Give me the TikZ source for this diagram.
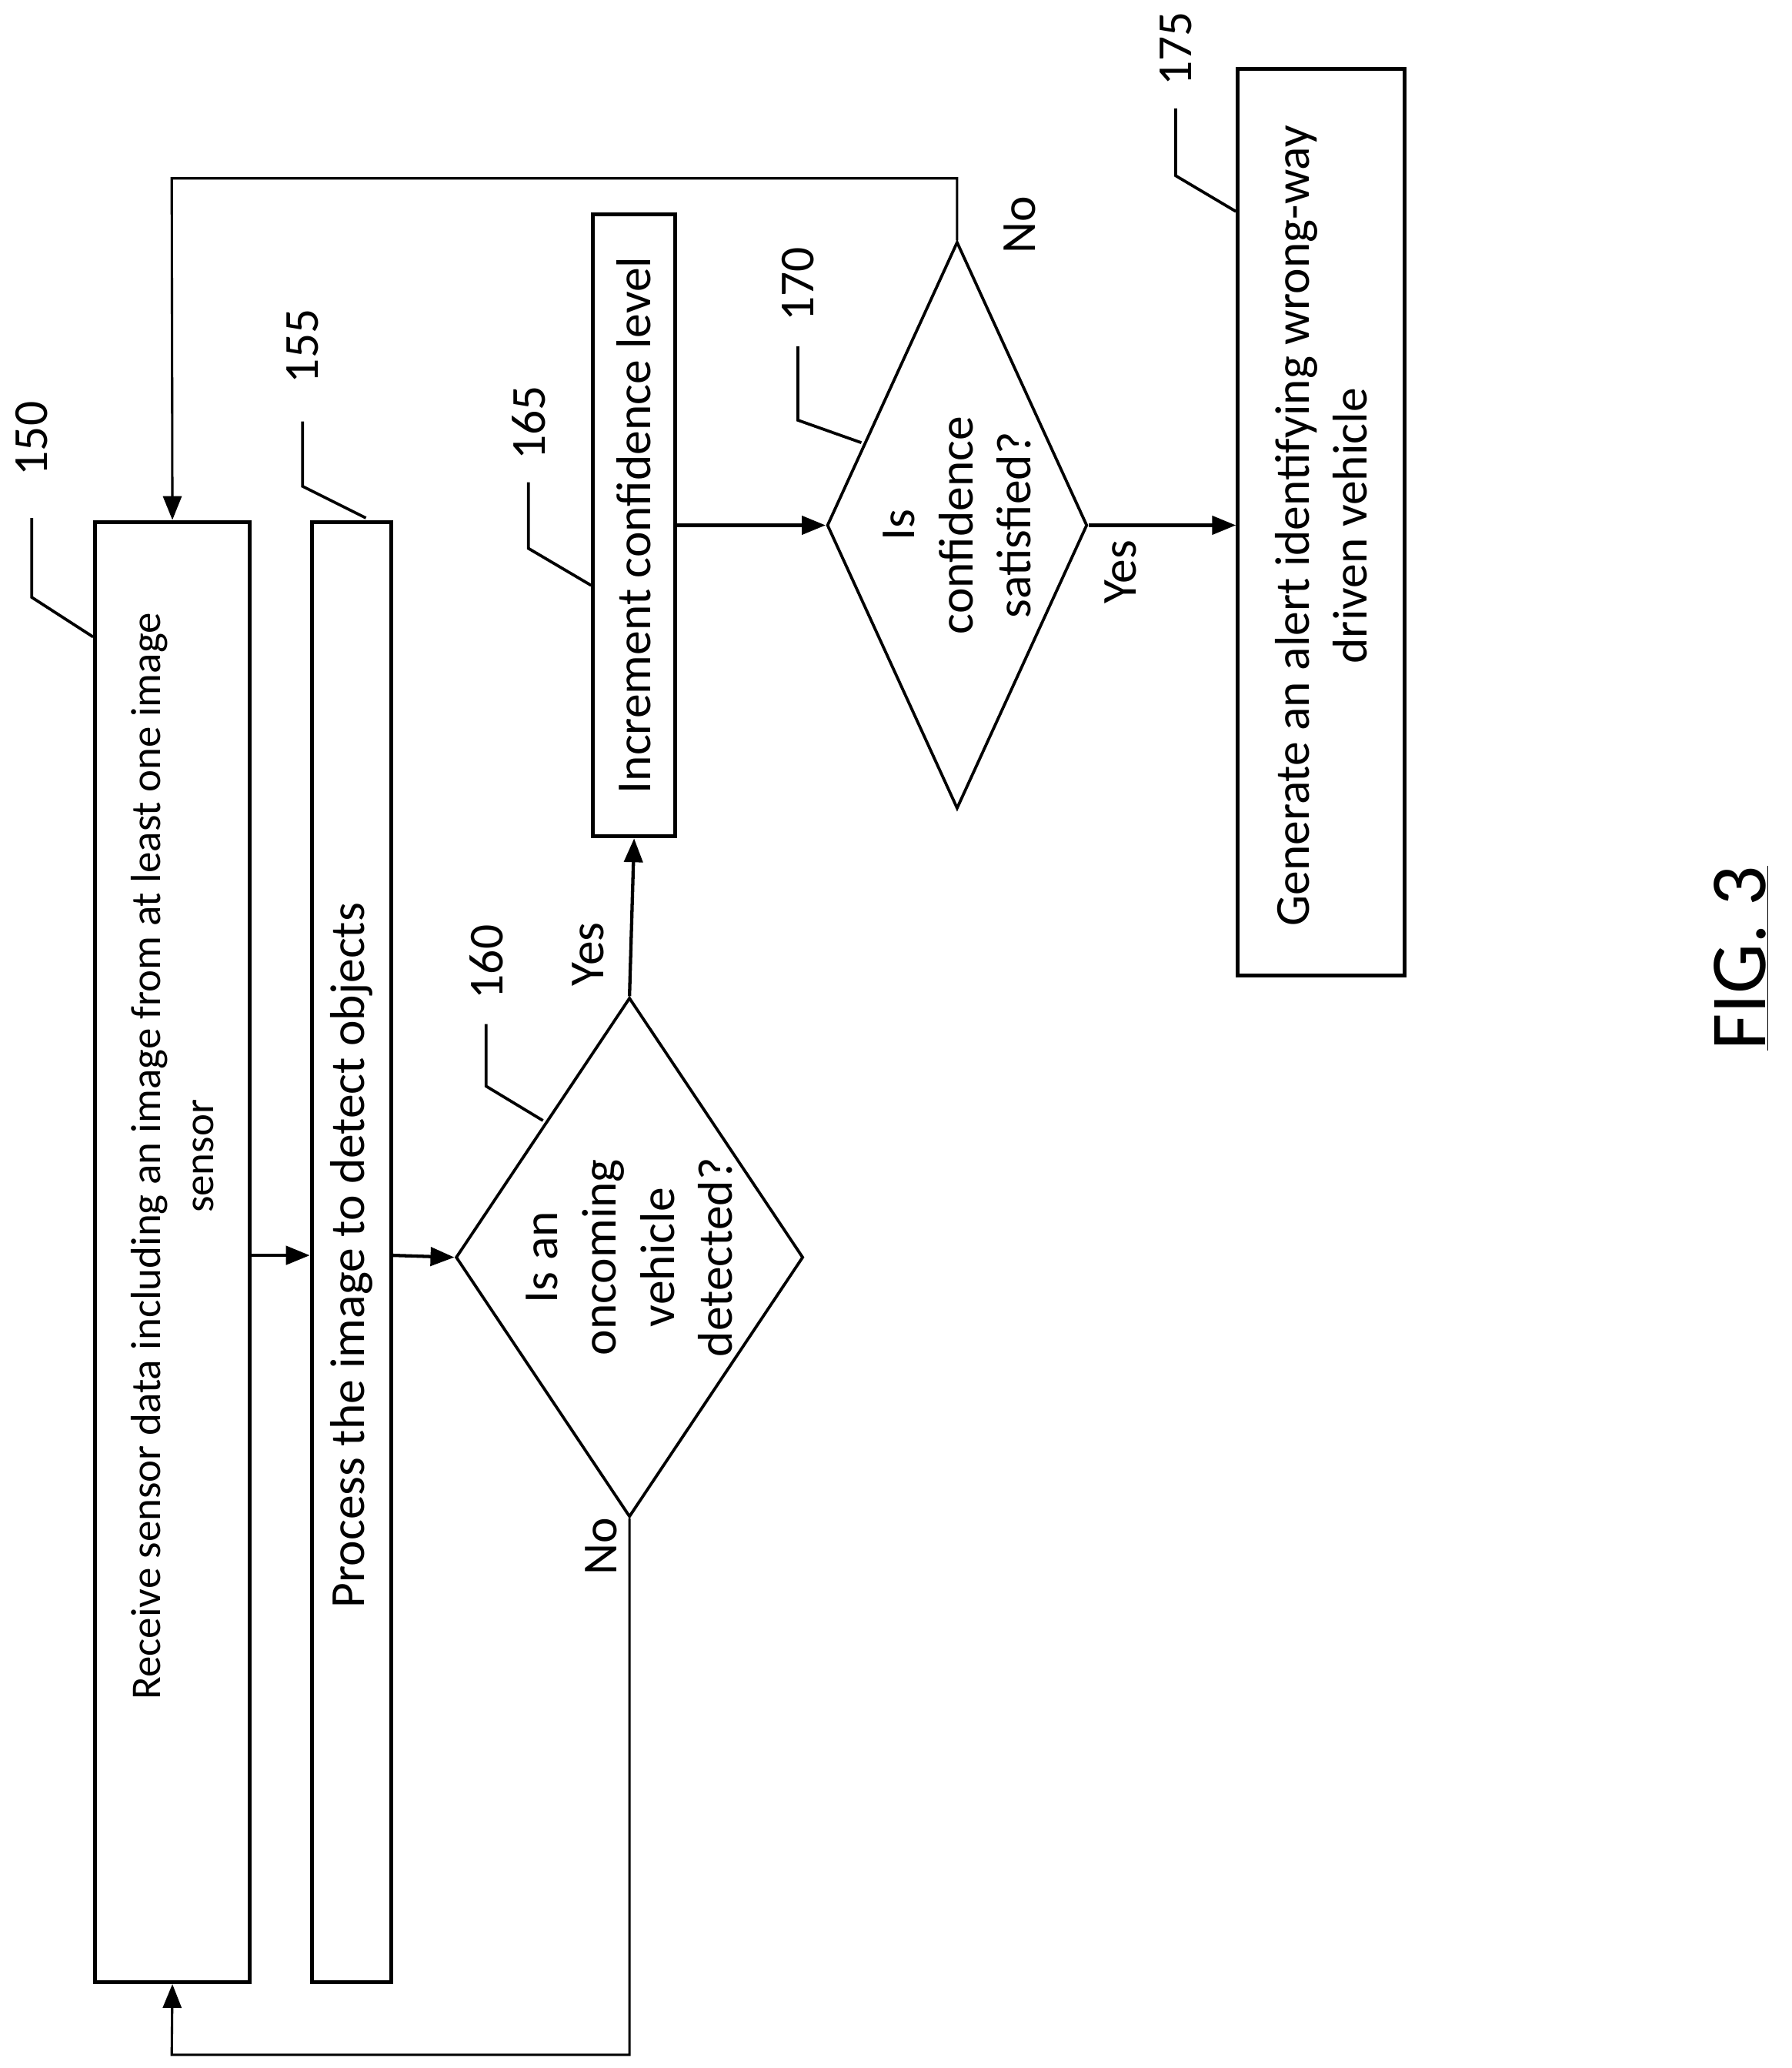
\documentclass[tikz,border=0pt]{standalone}
\usepackage{fontspec}
\setmainfont{Carlito}
\usetikzlibrary{shapes.geometric,arrows.meta}
\begin{document}
\begin{tikzpicture}[x=1pt,y=-1pt,
  box/.style={draw,line width=3pt,inner sep=0pt},
  dia/.style={draw,line width=2.2pt,diamond,inner sep=0pt},
  txt/.style={rotate=90,inner sep=0pt,align=center,font=\fontsize{37}{44}\selectfont},
  arr/.style={line width=2.5pt,-{Triangle[length=18pt,width=14pt]}},
  loop/.style={line width=1.8pt,-{Triangle[length=18pt,width=14pt]}},
  lead/.style={line width=2.2pt},
  lbl/.style={rotate=90,font=\fontsize{37}{44}\selectfont,inner sep=0pt}]
\useasboundingbox (0,0) rectangle (1356,1565);
\node[box,minimum width=117pt,minimum height=1105pt] (b150) at (130.5,947.5) {};
\node[txt,font=\fontsize{32}{40}\selectfont] (t150) at (130.5,875) {Receive sensor data including an image from at least one image\\sensor};
\node[box,minimum width=60pt,minimum height=1105pt] (b155) at (266,947.5) {};
\node[txt] (t155) at (266,950) {Process the image to detect objects};
\node[dia,minimum width=263pt,minimum height=393pt] (d160) at (476.5,951.5) {};
\node[txt] (t160) at (476.5,951.5) {Is an\\oncoming\\vehicle\\detected?};
\node[box,minimum width=62pt,minimum height=471pt] (b165) at (480,397.5) {};
\node[txt] (t165) at (480,397.5) {Increment confidence level};
\node[dia,minimum width=197pt,minimum height=429pt] (d170) at (724.5,397.5) {};
\node[txt] (t170) at (724.5,397.5) {Is\\confidence\\satisfied?};
\node[box,minimum width=126pt,minimum height=686pt] (b175) at (1000,395) {};
\node[txt] (t175) at (1000,398) {Generate an alert identifying wrong-way\\driven vehicle};
\node[rotate=90,font=\fontsize{60}{70}\selectfont,inner sep=0pt] (fig) at (1318,725) {\underline{FIG. 3}};
% arrows
\draw[arr] (b150.east |- 0,950) -- (b155.west |- 0,950);
\draw[arr] (b155.east |- 0,950) -- (d160.west);
\draw[arr] (d160.north) -- (b165.south);
\draw[arr] (b165.east) -- (d170.west);
\draw[arr] (d170.east) -- (b175.west |- d170.east);
\coordinate (t1) at (724.5,135);
\coordinate (t2) at (130,135);
\draw[loop] (d170.north) -- (t1) -- (t2) -- (b150.north);
\coordinate (u1) at (476.5,1555);
\coordinate (u2) at (130,1555);
\draw[loop] (d160.south) -- (u1) -- (u2) -- (b150.south);
% yes/no
\node[lbl] (y1) at (445,722) {Yes};
\node[lbl] (n1) at (455,1170) {No};
\node[lbl] (y2) at (848,433) {Yes};
\node[lbl] (n2) at (772,170) {No};
% reference numerals
\node[lbl] (r150) at (24,332) {150};
\draw[lead] (24,392) -- (24,452) -- (b150.west |- 0,482);
\node[lbl] (r155) at (229,262) {155};
\draw[lead] (229,319) -- (229,368) -- (277,392);
\node[lbl] (r160) at (368,728) {160};
\draw[lead] (368,775) -- (368,822) -- (411,848);
\node[lbl] (r165) at (400,320) {165};
\draw[lead] (400,365) -- (400,415) -- (b165.west |- 0,443);
\node[lbl] (r170) at (604,215) {170};
\draw[lead] (604,262) -- (604,318) -- (652,335);
\node[lbl] (r175) at (890,37) {175};
\draw[lead] (890,82) -- (890,133) -- (b175.west |- 0,160);
\end{tikzpicture}
\end{document}
